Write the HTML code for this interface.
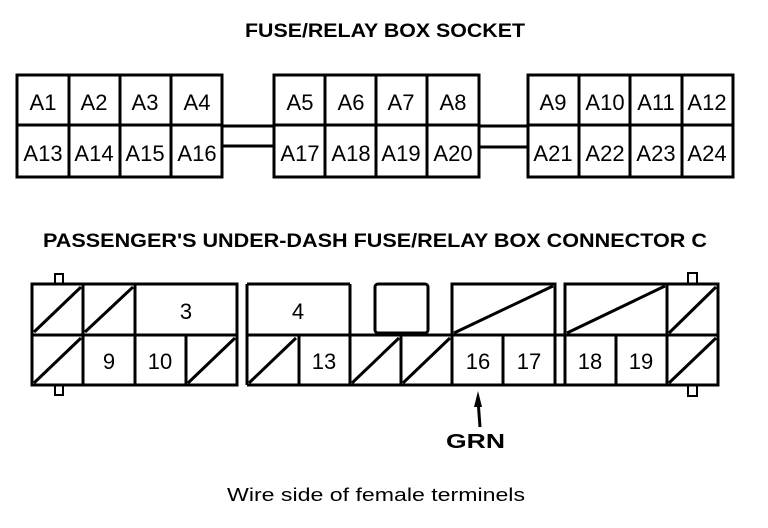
<!DOCTYPE html>
<html><head><style>html,body{margin:0;padding:0;background:#fff}svg{display:block}</style></head>
<body>
<svg width="768" height="528" viewBox="0 0 768 528" xmlns="http://www.w3.org/2000/svg" font-family="Liberation Sans, sans-serif">
<g font-weight="bold" fill="#000">
<text x="245" y="37" font-size="19" textLength="280" lengthAdjust="spacingAndGlyphs">FUSE/RELAY BOX SOCKET</text>
<text x="43" y="247" font-size="19" textLength="664" lengthAdjust="spacingAndGlyphs">PASSENGER'S UNDER-DASH FUSE/RELAY BOX CONNECTOR C</text>
<text x="446" y="448" font-size="20" textLength="59" lengthAdjust="spacingAndGlyphs">GRN</text>
</g>
<text x="227" y="501" font-size="18" textLength="298" lengthAdjust="spacingAndGlyphs">Wire side of female terminels</text>

<g stroke="#000" stroke-width="3" fill="none">
<rect x="17" y="75" width="205" height="102"/>
<line x1="17" y1="125" x2="222" y2="125"/>
<line x1="69" y1="75" x2="69" y2="177"/><line x1="120" y1="75" x2="120" y2="177"/><line x1="171" y1="75" x2="171" y2="177"/>
<rect x="274" y="75" width="205" height="102"/>
<line x1="274" y1="125" x2="479" y2="125"/>
<line x1="325" y1="75" x2="325" y2="177"/><line x1="376" y1="75" x2="376" y2="177"/><line x1="427" y1="75" x2="427" y2="177"/>
<rect x="528" y="75" width="205" height="102"/>
<line x1="528" y1="125" x2="733" y2="125"/>
<line x1="579" y1="75" x2="579" y2="177"/><line x1="630" y1="75" x2="630" y2="177"/><line x1="682" y1="75" x2="682" y2="177"/>
<line x1="222" y1="126" x2="274" y2="126"/><line x1="222" y1="146" x2="274" y2="146"/>
<line x1="479" y1="126" x2="528" y2="126"/><line x1="479" y1="147" x2="528" y2="147"/>

<rect x="55" y="274" width="8" height="10" stroke-width="2"/>
<rect x="55" y="385" width="8" height="10" stroke-width="2"/>
<rect x="688" y="273" width="9" height="11" stroke-width="2"/>
<rect x="688" y="385" width="9" height="11" stroke-width="2"/>
<rect x="32" y="284" width="205" height="101" fill="#fff"/>
<line x1="32" y1="335" x2="237" y2="335"/>
<line x1="83" y1="284" x2="83" y2="385"/><line x1="135" y1="284" x2="135" y2="385"/><line x1="186" y1="335" x2="186" y2="385"/>
<line x1="34" y1="332" x2="81" y2="287"/><line x1="85" y1="332" x2="133" y2="287"/>
<line x1="34" y1="383" x2="81" y2="338"/><line x1="188" y1="383" x2="235" y2="338"/>
<line x1="247" y1="284" x2="350" y2="284"/><line x1="350" y1="284" x2="350" y2="385"/>
<line x1="247" y1="284" x2="247" y2="385"/>
<line x1="247" y1="335" x2="718" y2="335"/>
<line x1="247" y1="385" x2="718" y2="385"/>
<line x1="299" y1="335" x2="299" y2="385"/><line x1="401" y1="335" x2="401" y2="385"/>
<line x1="249" y1="383" x2="296" y2="338"/><line x1="352" y1="383" x2="399" y2="338"/><line x1="403" y1="383" x2="450" y2="338"/>
<rect x="375" y="284" width="53" height="49" rx="3"/>
<rect x="452" y="284" width="103" height="101"/>
<line x1="503" y1="335" x2="503" y2="385"/>
<line x1="454" y1="333" x2="553" y2="286"/>
<rect x="565" y="284" width="153" height="101"/>
<line x1="616" y1="335" x2="616" y2="385"/><line x1="667" y1="284" x2="667" y2="385"/>
<line x1="567" y1="333" x2="665" y2="286"/>
<line x1="669" y1="333" x2="716" y2="287"/><line x1="669" y1="383" x2="716" y2="338"/>
<line x1="480" y1="427" x2="478" y2="400"/>
</g>
<polygon points="478,391 474,407 482,407" fill="#000"/>

<g font-size="22" fill="#000" text-anchor="middle">
<text x="43" y="110">A1</text><text x="94" y="110">A2</text><text x="145" y="110">A3</text><text x="197" y="110">A4</text>
<text x="43" y="161">A13</text><text x="94" y="161">A14</text><text x="145" y="161">A15</text><text x="197" y="161">A16</text>
<text x="300" y="110">A5</text><text x="351" y="110">A6</text><text x="401" y="110">A7</text><text x="453" y="110">A8</text>
<text x="300" y="161">A17</text><text x="351" y="161">A18</text><text x="401" y="161">A19</text><text x="453" y="161">A20</text>
<text x="553" y="110">A9</text><text x="605" y="110">A10</text><text x="656" y="110">A11</text><text x="707" y="110">A12</text>
<text x="553" y="161">A21</text><text x="605" y="161">A22</text><text x="656" y="161">A23</text><text x="707" y="161">A24</text>
<text x="186" y="319">3</text><text x="298" y="319">4</text>
<text x="109" y="369">9</text><text x="160" y="369">10</text><text x="324" y="369">13</text>
<text x="478" y="369">16</text><text x="529" y="369">17</text><text x="590" y="369">18</text><text x="641" y="369">19</text>
</g>
</svg>
</body></html>
